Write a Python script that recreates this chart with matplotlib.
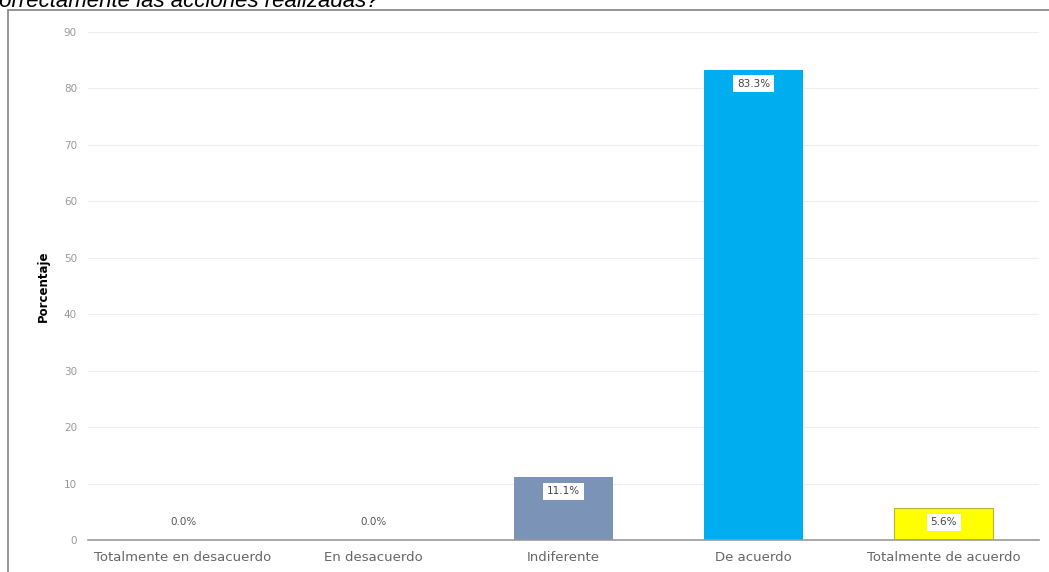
import matplotlib.pyplot as plt
from matplotlib.patches import Rectangle

# Survey answers and their share of respondents (%)
categorias = ["Totalmente en desacuerdo", "En desacuerdo", "Indiferente",
              "De acuerdo", "Totalmente de acuerdo"]
porcentajes = [0.0, 0.0, 11.1, 83.3, 5.6]
colores = ["#7b93b6", "#7b93b6", "#7b93b6", "#00aeef", "#ffff00"]
yticks = [0, 10, 20, 30, 40, 50, 60, 70, 80, 90]

W, H = 1049, 572
fig = plt.figure(figsize=(W / 100, H / 100), dpi=100)

# question line above the chart (runs off the top edge)
fig.text(-12 / W, 1 - 7 / H, "correctamente las acciones realizadas?",
         fontsize=16, style="italic", family="Liberation Sans",
         ha="left", va="baseline", color="black")

# outer frame of the chart panel
fig.patches.append(Rectangle((8 / W, -0.05), 1.1, (H - 10) / H + 0.05,
                             transform=fig.transFigure, fill=False,
                             edgecolor="#8c8c8c", linewidth=1.3))

ax = fig.add_axes([88 / W, 32 / H, (1039 - 88) / W, (540 - 32) / H])

x = range(len(categorias))
bars = ax.bar(x, porcentajes, width=0.52, color=colores, zorder=3)
bars[4].set_edgecolor("#b5b53c")
bars[4].set_linewidth(0.8)

for i, v in enumerate(porcentajes):
    txt = f"{v:.1f}%"
    if v > 0:
        ax.annotate(txt, (i, v), xytext=(0, -10), textcoords="offset points",
                    ha="center", va="center", fontsize=7.5, color="#444444",
                    bbox=dict(boxstyle="square,pad=0.35", fc="white", ec="none"),
                    zorder=4)
    else:
        ax.annotate(txt, (i, v), xytext=(0, 13), textcoords="offset points",
                    ha="center", va="center", fontsize=7.5, color="#555555",
                    zorder=4)

ax.set_xlim(-0.5, len(categorias) - 0.5)
ax.set_ylim(0, 90)
ax.set_yticks(yticks)
ax.set_yticklabels([str(t) for t in yticks], color="#999999", fontsize=7.5)
ax.set_xticks(list(x))
ax.set_xticklabels(categorias, color="#666666", fontsize=9.5)
ax.tick_params(axis="both", length=0)
ax.tick_params(axis="y", pad=8)
ax.tick_params(axis="x", pad=8)

ax.grid(axis="y", color="#eeeeee", linewidth=0.8, zorder=0)
for side in ["top", "right", "left"]:
    ax.spines[side].set_visible(False)
ax.spines["bottom"].set_color("#999999")
ax.spines["bottom"].set_linewidth(1.2)
ax.spines["bottom"].set_zorder(5)

ax.set_ylabel("Porcentaje", fontsize=8.5, fontweight="bold",
              family="Liberation Sans Narrow")
ax.yaxis.set_label_coords(-38 / 951, 0.5)

fig.savefig("out.png", dpi=100)
